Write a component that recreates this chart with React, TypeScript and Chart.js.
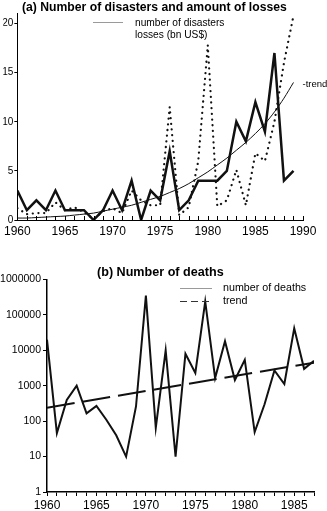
import React, { useEffect, useRef } from "react";
import { Chart, registerables } from "chart.js";

Chart.register(...registerables);

// ---------- Panel (a) data ----------
const YEARS_A = [1960, 1961, 1962, 1963, 1964, 1965, 1966, 1967, 1968, 1969, 1970, 1971, 1972, 1973, 1974, 1975, 1976, 1977, 1978, 1979, 1980, 1981, 1982, 1983, 1984, 1985, 1986, 1987, 1988, 1989];
const DISASTERS = [3, 1, 2, 1, 3, 1, 1, 1, 0, 1, 3, 1, 4, 0, 3, 2, 7, 1, 2, 4, 4, 4, 5, 10, 8, 12, 9, 17, 4, 5];
const LOSSES = [1.2, 0.6, 0.7, 0.7, 1.8, 1.0, 1.3, 0.8, 0.1, 0.9, 1.2, 0.7, 3.0, 2.0, 1.5, 1.5, 11.5, 0.5, 1.3, 6.0, 17.8, 1.4, 2.0, 5.1, 1.5, 6.8, 6.0, 10.0, 16.0, 20.8];
const TREND_A = [0.2, 0.2, 0.25, 0.3, 0.35, 0.4, 0.5, 0.6, 0.7, 0.9, 1.1, 1.3, 1.5, 1.8, 2.1, 2.4, 2.8, 3.2, 3.7, 4.3, 4.9, 5.6, 6.3, 7.1, 7.9, 8.8, 9.8, 11.0, 12.4, 14.0];
const X_LABELS_A = [1960, 1965, 1970, 1975, 1980, 1985, 1990];
const Y_LABELS_A = [0, 5, 10, 15, 20];
const TITLE_A = "(a) Number of disasters and amount of losses";
const LEGEND_A = ["number of disasters", "losses (bn US$)"];
const TREND_LABEL_A = "-trend";

// ---------- Panel (b) data ----------
const YEARS_B = [1960, 1961, 1962, 1963, 1964, 1965, 1966, 1967, 1968, 1969, 1970, 1971, 1972, 1973, 1974, 1975, 1976, 1977, 1978, 1979, 1980, 1981, 1982, 1983, 1984, 1985, 1986, 1987];
const DEATHS = [20000, 46, 400, 1000, 167, 270, 110, 40, 10, 260, 350000, 65, 10000, 10, 8000, 2300, 240000, 1650, 18000, 1450, 5400, 49, 300, 2700, 1120, 42000, 3000, 5100];
const TREND_B_YEARS = [1960, 1987];
const TREND_B = [240, 4500];
const X_LABELS_B = [1960, 1965, 1970, 1975, 1980, 1985];
const Y_LABELS_B = [1, 10, 100, 1000, 10000, 100000, 1000000];
const TITLE_B = "(b) Number of deaths";
const LEGEND_B = ["number of deaths", "trend"];

const FONT = "'Liberation Sans', Arial, Helvetica, sans-serif";

const pts = (xs: number[], ys: number[]) => xs.map((x, i) => ({ x, y: ys[i] }));

const decorA = {
  id: "decorA",
  afterDraw(chart: any) {
    const ctx = chart.ctx;
    const xs = chart.scales.x;
    const area = chart.chartArea;
    ctx.save();
    // inward minor ticks on x axis
    ctx.strokeStyle = "#000";
    ctx.lineWidth = 1;
    xs.ticks.forEach((t: any) => {
      const px = Math.round(xs.getPixelForValue(t.value)) + 0.5;
      ctx.beginPath();
      ctx.moveTo(px, area.bottom);
      ctx.lineTo(px, area.bottom - 4);
      ctx.stroke();
    });
    // title
    ctx.fillStyle = "#000";
    ctx.textAlign = "left";
    ctx.textBaseline = "middle";
    ctx.font = `bold 12.2px ${FONT}`;
    ctx.fillText(TITLE_A, 22, 8);
    // legend
    ctx.strokeStyle = "#9a9a9a";
    ctx.lineWidth = 1;
    ctx.beginPath();
    ctx.moveTo(93, 22.5);
    ctx.lineTo(123, 22.5);
    ctx.stroke();
    ctx.font = `10.2px ${FONT}`;
    ctx.fillText(LEGEND_A[0], 135, 23.5);
    ctx.fillText(LEGEND_A[1], 135, 35.5);
    // trend label at end of trend line
    const meta = chart.getDatasetMeta(2);
    const last = meta.data[meta.data.length - 1];
    ctx.font = `9.5px ${FONT}`;
    ctx.fillText(TREND_LABEL_A, last.x + 9, last.y + 2);
    ctx.restore();
  },
};

const decorB = {
  id: "decorB",
  afterDraw(chart: any) {
    const ctx = chart.ctx;
    ctx.save();
    ctx.fillStyle = "#000";
    ctx.textAlign = "left";
    ctx.textBaseline = "middle";
    ctx.font = `bold 12.6px ${FONT}`;
    ctx.fillText(TITLE_B, 97, 27.5);
    ctx.strokeStyle = "#9a9a9a";
    ctx.lineWidth = 1;
    ctx.beginPath();
    ctx.moveTo(180, 43.5);
    ctx.lineTo(212, 43.5);
    ctx.stroke();
    ctx.strokeStyle = "#333";
    ctx.setLineDash([7, 4]);
    ctx.beginPath();
    ctx.moveTo(180, 56.5);
    ctx.lineTo(212, 56.5);
    ctx.stroke();
    ctx.setLineDash([]);
    ctx.font = `10.7px ${FONT}`;
    ctx.fillText(LEGEND_B[0], 223, 43.5);
    ctx.fillText(LEGEND_B[1], 223, 56.5);
    ctx.restore();
  },
};

export default function App() {
  const refA = useRef<HTMLCanvasElement>(null);
  const refB = useRef<HTMLCanvasElement>(null);

  useEffect(() => {
    const chartA = new Chart(refA.current as HTMLCanvasElement, {
      type: "line",
      data: {
        datasets: [
          {
            label: LEGEND_A[0],
            data: pts(YEARS_A, DISASTERS),
            borderColor: "#111",
            borderWidth: 2.5,
            pointRadius: 0,
            tension: 0,
          },
          {
            label: LEGEND_A[1],
            data: pts(YEARS_A, LOSSES),
            borderColor: "#111",
            borderWidth: 2.2,
            borderDash: [0.1, 5.6],
            borderCapStyle: "round",
            pointRadius: 0,
            tension: 0,
          },
          {
            label: "trend",
            data: pts(YEARS_A, TREND_A),
            borderColor: "#111",
            borderWidth: 1,
            pointRadius: 0,
            tension: 0.3,
          },
        ],
      },
      options: {
        animation: false,
        responsive: true,
        maintainAspectRatio: false,
        layout: { padding: { left: 0, right: 24, top: 13.7, bottom: 0 } },
        plugins: { legend: { display: false }, tooltip: { enabled: false }, title: { display: false } },
        scales: {
          x: {
            type: "linear",
            min: 1960,
            max: 1990,
            afterFit: (s: any) => { s.height = 25; },
            grid: { display: true, drawOnChartArea: false, drawTicks: false },
            border: { display: true, color: "#000", width: 1 },
            ticks: {
              stepSize: 1,
              autoSkip: false,
              maxRotation: 0,
              padding: 4,
              color: "#000",
              font: { family: FONT, size: 12 },
              callback: (v: any) => (X_LABELS_A.includes(Number(v)) ? String(v) : ""),
            },
          },
          y: {
            type: "linear",
            min: 0,
            max: 21,
            afterFit: (s: any) => { s.width = 14; },
            afterBuildTicks: (s: any) => { s.ticks = Y_LABELS_A.map((v) => ({ value: v })); },
            grid: { display: true, drawOnChartArea: false, drawTicks: true, tickLength: 3, color: "#000" },
            border: { display: true, color: "#000", width: 1 },
            ticks: {
              padding: 1,
              color: "#000",
              font: { family: FONT, size: 10 },
              callback: (v: any) => String(v),
            },
          },
        },
      },
      plugins: [decorA],
    } as any);

    const chartB = new Chart(refB.current as HTMLCanvasElement, {
      type: "line",
      data: {
        datasets: [
          {
            label: LEGEND_B[0],
            data: pts(YEARS_B, DEATHS),
            borderColor: "#111",
            borderWidth: 2,
            pointRadius: 0,
            tension: 0,
          },
          {
            label: LEGEND_B[1],
            data: pts(TREND_B_YEARS, TREND_B),
            borderColor: "#111",
            borderWidth: 2,
            borderDash: [28, 8],
            pointRadius: 0,
            tension: 0,
          },
        ],
      },
      options: {
        animation: false,
        responsive: true,
        maintainAspectRatio: false,
        layout: { padding: { left: 0, right: 13, top: 34.5, bottom: 0 } },
        plugins: { legend: { display: false }, tooltip: { enabled: false }, title: { display: false } },
        scales: {
          x: {
            type: "linear",
            min: 1960,
            max: 1987,
            afterFit: (s: any) => { s.height = 19; },
            grid: { display: true, drawOnChartArea: false, drawTicks: true, tickLength: 4, color: "#000" },
            border: { display: true, color: "#000", width: 1.5 },
            ticks: {
              stepSize: 1,
              autoSkip: false,
              maxRotation: 0,
              padding: 2,
              color: "#000",
              font: { family: FONT, size: 12 },
              callback: (v: any) => (X_LABELS_B.includes(Number(v)) ? String(v) : ""),
            },
          },
          y: {
            type: "logarithmic",
            min: 1,
            max: 1000000,
            afterFit: (s: any) => { s.width = 47; },
            afterBuildTicks: (s: any) => { s.ticks = Y_LABELS_B.map((v) => ({ value: v })); },
            grid: { display: true, drawOnChartArea: false, drawTicks: true, tickLength: 4, color: "#000" },
            border: { display: true, color: "#000", width: 1.5 },
            ticks: {
              padding: 2,
              color: "#000",
              font: { family: FONT, size: 10.5 },
              callback: (v: any) => String(v),
            },
          },
        },
      },
      plugins: [decorB],
    } as any);

    return () => {
      chartA.destroy();
      chartB.destroy();
    };
  }, []);

  return (
    <div style={{ position: "fixed", left: 0, top: 0, width: 327, height: 511, background: "#fff" }}>
      <div style={{ position: "absolute", left: 0, top: 0, width: 327, height: 245 }}>
        <canvas ref={refA} />
      </div>
      <div style={{ position: "absolute", left: 0, top: 245, width: 327, height: 266 }}>
        <canvas ref={refB} />
      </div>
    </div>
  );
}
